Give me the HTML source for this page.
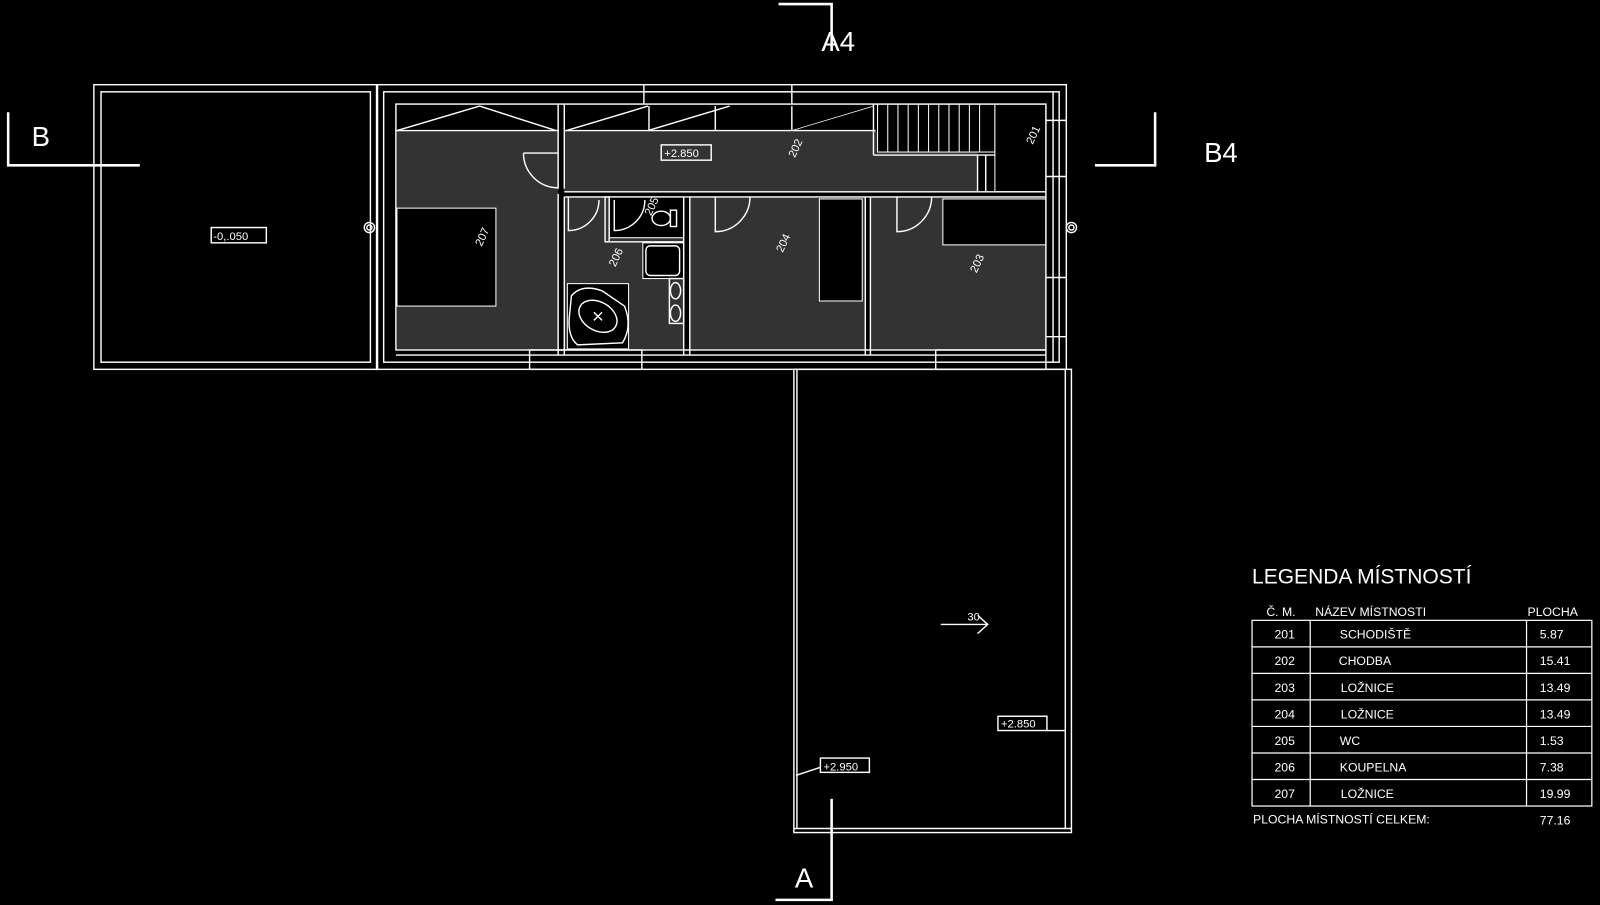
<!DOCTYPE html>
<html><head><meta charset="utf-8"><style>
html,body{margin:0;padding:0;background:#000;}
svg{display:block}
text{font-family:"Liberation Sans",sans-serif;fill:#fff}
</style></head><body>
<svg width="1600" height="905" viewBox="0 0 1568 887" preserveAspectRatio="none" xmlns="http://www.w3.org/2000/svg">
<rect width="1568" height="887" fill="#000"/>
<g fill="none" stroke="#fff" stroke-width="1.4">
<rect x="92" y="83" width="278" height="279"/>
<rect x="99" y="90" width="264" height="265"/>
<rect x="778" y="362" width="272" height="454"/>
<line x1="781" y1="362" x2="781" y2="812"/>
<line x1="1044" y1="362" x2="1044" y2="812"/>
<line x1="778" y1="812" x2="1050" y2="812"/>
</g>
<g fill="#333">
<rect x="389" y="128" width="158" height="214"/>
<rect x="553" y="128" width="405" height="60"/>
<rect x="553" y="193" width="117" height="149"/>
<rect x="676" y="193" width="172" height="149"/>
<rect x="853" y="193" width="172" height="149"/>
</g>
<g fill="#000" stroke="#fff" stroke-width="1">
<rect x="389" y="204" width="97" height="96"/>
<rect x="803" y="195" width="42" height="100"/>
<rect x="924" y="195" width="101" height="45"/>
<rect x="860" y="102" width="115" height="47"/>
<rect x="975" y="102" width="50" height="86"/>
<rect x="597" y="193" width="73" height="40"/>
<rect x="630" y="238" width="40" height="35"/>
<rect x="556" y="278" width="60" height="64"/>
</g>
<g fill="none" stroke="#fff" stroke-width="1">
<line x1="870" y1="102" x2="870" y2="149"/><line x1="880" y1="102" x2="880" y2="149"/>
<line x1="890" y1="102" x2="890" y2="149"/><line x1="900" y1="102" x2="900" y2="149"/>
<line x1="910" y1="102" x2="910" y2="149"/><line x1="920" y1="102" x2="920" y2="149"/>
<line x1="930" y1="102" x2="930" y2="149"/><line x1="940" y1="102" x2="940" y2="149"/>
<line x1="950" y1="102" x2="950" y2="149"/><line x1="960" y1="102" x2="960" y2="149"/>
</g>
<g fill="none" stroke="#fff" stroke-width="1.4">
<rect x="369" y="83" width="676" height="279"/>
<rect x="376" y="90" width="662" height="265"/>
<rect x="388" y="102" width="637" height="241"/>
<line x1="631" y1="83" x2="631" y2="102"/><line x1="776" y1="83" x2="776" y2="102"/>
<line x1="631" y1="90" x2="776" y2="90"/>
<rect x="519" y="343" width="110" height="19"/>
<rect x="917" y="343" width="108" height="19"/>
<line x1="388" y1="348" x2="1025" y2="348"/>
<line x1="1025" y1="118" x2="1045" y2="118"/><line x1="1025" y1="173" x2="1045" y2="173"/>
<line x1="1025" y1="272" x2="1045" y2="272"/><line x1="1025" y1="330" x2="1045" y2="330"/>
<line x1="1032" y1="90" x2="1032" y2="355"/>
<line x1="388" y1="128" x2="547" y2="128"/>
<line x1="553" y1="128" x2="858" y2="128"/>
<line x1="547" y1="102" x2="547" y2="185"/><line x1="553" y1="102" x2="553" y2="185"/>
<line x1="389" y1="128" x2="470" y2="104"/><line x1="470" y1="104" x2="545" y2="128"/>
<line x1="555" y1="128" x2="635" y2="104"/><line x1="635" y1="128" x2="715" y2="104"/>
<line x1="636" y1="104" x2="636" y2="128"/><line x1="701" y1="104" x2="701" y2="128"/><line x1="776" y1="104" x2="776" y2="128"/>
<line x1="776" y1="128" x2="856" y2="104" stroke-width="0.7"/>
<line x1="856" y1="102" x2="856" y2="152"/>
<line x1="856" y1="152" x2="975" y2="152"/>
<line x1="958" y1="152" x2="958" y2="188"/><line x1="966" y1="152" x2="966" y2="188"/>
<line x1="553" y1="188" x2="1025" y2="188"/><line x1="553" y1="193" x2="1025" y2="193"/>
<line x1="670" y1="193" x2="670" y2="348"/><line x1="676" y1="193" x2="676" y2="348"/>
<line x1="848" y1="193" x2="848" y2="348"/><line x1="853" y1="193" x2="853" y2="348"/>
<line x1="547" y1="190" x2="547" y2="348"/><line x1="553" y1="193" x2="553" y2="348"/>
<rect x="593" y="193" width="4" height="44"/><line x1="593" y1="237" x2="670" y2="237"/>
<path d="M513 150 L547 150 M513 150 A34 34 0 0 0 547 184"/>
<path d="M557 193 L557 226 A30 30 0 0 0 587 196"/>
<path d="M602 196 L602 226 A30 30 0 0 0 632 196"/>
<path d="M701 193 L701 227 A34 34 0 0 0 735 193"/>
<path d="M879 193 L879 227 A34 34 0 0 0 913 193"/>
<rect x="633" y="241" width="33" height="29" rx="4"/>
<rect x="656" y="273" width="14" height="44"/>
<ellipse cx="662" cy="285" rx="5" ry="8"/><ellipse cx="662" cy="307" rx="5" ry="8"/>
<path d="M560 290 Q570 278 590 285 L612 300 Q620 320 610 336 L566 338 Q556 330 558 310 Z"/>
<ellipse cx="586" cy="310" rx="20" ry="14" transform="rotate(30 586 310)"/>
<path d="M582 306 l8 8 M590 306 l-8 8"/>
<ellipse cx="648" cy="214" rx="9" ry="7"/><rect x="657" y="206" width="6" height="16"/>
<circle cx="362" cy="223" r="5"/><circle cx="362" cy="223" r="2.5"/>
<circle cx="1050" cy="223" r="5"/><circle cx="1050" cy="223" r="2.5"/>
<rect x="207" y="223" width="54" height="15"/>
<rect x="648" y="142" width="49" height="15"/>
<rect x="978" y="702" width="48" height="14"/>
<line x1="1026" y1="716" x2="1044" y2="716"/>
<rect x="804" y="743" width="48" height="14"/>
<line x1="804" y1="752" x2="780" y2="760"/>
<path d="M922 612 L968 612 M958 603 L968 612 L958 621"/>
</g>
<g fill="none" stroke="#fff" stroke-width="2.5">
<path d="M763 4 L815 4 L815 50"/>
<path d="M815 783 L815 882 L760 882"/>
<path d="M8 110 L8 162 L137 162"/>
<path d="M1132 110 L1132 162 L1073 162"/>
</g>
<text x="805" y="50" font-size="27">A4</text>
<text x="779" y="870" font-size="27">A</text>
<text x="31" y="143" font-size="27">B</text>
<text x="1180" y="159" font-size="27">B4</text>
<g font-size="11">
<text x="209" y="235">-0,.050</text>
<text x="651" y="154">+2.850</text>
<text x="981" y="713">+2.850</text>
<text x="807" y="755">+2.950</text>
<text x="948" y="608">30</text>
<text transform="translate(472,242) rotate(-65)">207</text>
<text transform="translate(779,155) rotate(-65)">202</text>
<text transform="translate(1012,142) rotate(-65)">201</text>
<text transform="translate(638,212) rotate(-65)">205</text>
<text transform="translate(603,262) rotate(-65)">206</text>
<text transform="translate(767,248) rotate(-65)">204</text>
<text transform="translate(957,268) rotate(-65)">203</text>
</g>
<text x="1227" y="572" font-size="20.6">LEGENDA MÍSTNOSTÍ</text>
<g font-size="12">
<text x="1241" y="604">Č. M.</text>
<text x="1289" y="604">NÁZEV MÍSTNOSTI</text>
<text x="1497" y="604">PLOCHA</text>
</g>
<g fill="none" stroke="#fff" stroke-width="1.2">
<rect x="1227" y="608" width="333" height="182"/>
<line x1="1284" y1="608" x2="1284" y2="790"/><line x1="1496" y1="608" x2="1496" y2="790"/>
<line x1="1227" y1="634" x2="1560" y2="634"/><line x1="1227" y1="660" x2="1560" y2="660"/>
<line x1="1227" y1="686" x2="1560" y2="686"/><line x1="1227" y1="712" x2="1560" y2="712"/>
<line x1="1227" y1="738" x2="1560" y2="738"/><line x1="1227" y1="764" x2="1560" y2="764"/>
</g>
<g font-size="12">
<text x="1249" y="626">201</text><text x="1313" y="626">SCHODIŠTĚ</text><text x="1509" y="626">5.87</text>
<text x="1249" y="652">202</text><text x="1312" y="652">CHODBA</text><text x="1509" y="652">15.41</text>
<text x="1249" y="678">203</text><text x="1314" y="678">LOŽNICE</text><text x="1509" y="678">13.49</text>
<text x="1249" y="704">204</text><text x="1314" y="704">LOŽNICE</text><text x="1509" y="704">13.49</text>
<text x="1249" y="730">205</text><text x="1313" y="730">WC</text><text x="1509" y="730">1.53</text>
<text x="1249" y="756">206</text><text x="1313" y="756">KOUPELNA</text><text x="1509" y="756">7.38</text>
<text x="1249" y="782">207</text><text x="1314" y="782">LOŽNICE</text><text x="1509" y="782">19.99</text>
<text x="1228" y="807">PLOCHA MÍSTNOSTÍ CELKEM:</text><text x="1509" y="808">77.16</text>
</g>
</svg>
</body></html>
